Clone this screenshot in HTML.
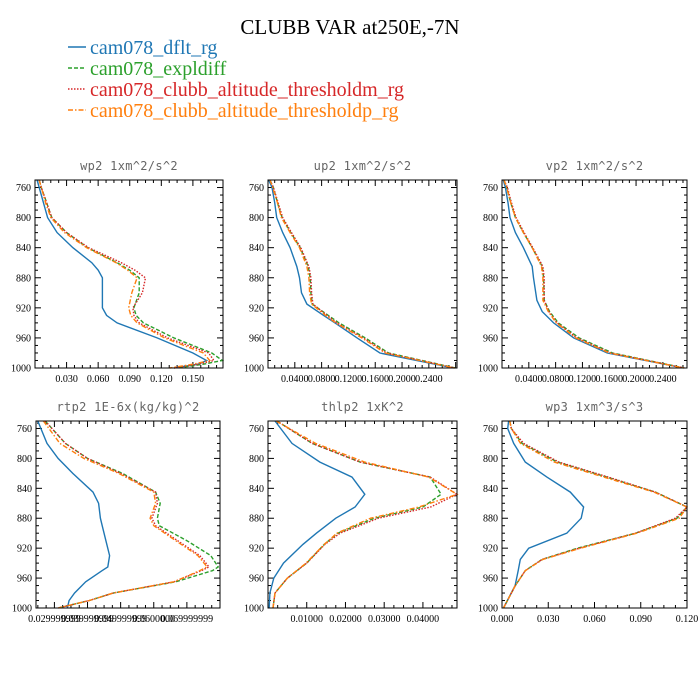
<!DOCTYPE html>
<html><head><meta charset="utf-8">
<style>
body{margin:0;background:#fff;}
svg{display:block;}
.ttl{font-family:"Liberation Serif",serif;}
.pt{font-family:"DejaVu Sans Mono","Liberation Mono",monospace;font-size:12px;fill:#666;letter-spacing:0.3px;}
.tk{font-family:"Liberation Serif",serif;font-size:10px;fill:#000;}
</style></head>
<body>
<svg id="fig" width="700" height="700" viewBox="0 0 700 700">
<text class="ttl" x="350" y="34" text-anchor="middle" font-size="21">CLUBB VAR at250E,-7N</text>
<g>
<g><line x1="68" y1="47" x2="86" y2="47" stroke="#1f77b4" stroke-width="1.5"/><text class="ttl" x="90" y="54" font-size="20" fill="#1f77b4">cam078_dflt_rg</text></g>
<g><line x1="68" y1="68" x2="86" y2="68" stroke="#2ca02c" stroke-width="1.5" stroke-dasharray="4,2"/><text class="ttl" x="90" y="75" font-size="20" fill="#2ca02c">cam078_expldiff</text></g>
<g><line x1="68" y1="89" x2="86" y2="89" stroke="#d62728" stroke-width="1.5" stroke-dasharray="1.5,1.5"/><text class="ttl" x="90" y="96" font-size="20" fill="#d62728">cam078_clubb_altitude_thresholdm_rg</text></g>
<g><line x1="68" y1="110" x2="86" y2="110" stroke="#ff7f0e" stroke-width="1.5" stroke-dasharray="5,2,1.5,2"/><text class="ttl" x="90" y="117" font-size="20" fill="#ff7f0e">cam078_clubb_altitude_thresholdp_rg</text></g>
</g>
</svg>
<script>
// ---- data ----
const pWp2 = [750,760,780,800,820,840,860,870,880,900,920,930,940,960,980,990,995,1000];
const wp2Dflt = [0.002,0.004,0.008,0.012,0.021,0.036,0.054,0.060,0.064,0.064,0.064,0.068,0.078,0.116,0.150,0.163,0.155,0.132];
const wp2Expl = [0.004,0.006,0.011,0.016,0.030,0.050,0.078,0.090,0.099,0.099,0.094,0.096,0.103,0.132,0.168,0.178,0.160,0.135];
const wp2Thm  = [0.004,0.006,0.011,0.016,0.030,0.051,0.082,0.095,0.105,0.102,0.093,0.094,0.099,0.126,0.165,0.170,0.155,0.132];
const wp2Thp  = [0.004,0.006,0.010,0.015,0.028,0.049,0.077,0.088,0.097,0.092,0.089,0.091,0.097,0.123,0.160,0.166,0.150,0.128];

const pUp2 = [750,760,780,800,820,840,865,880,900,915,930,940,960,980,1000];
const up2Dflt = [0.001,0.006,0.010,0.013,0.022,0.033,0.043,0.047,0.050,0.058,0.083,0.100,0.133,0.167,0.277];
const up2Expl = [0.003,0.008,0.014,0.021,0.034,0.048,0.060,0.063,0.064,0.066,0.090,0.106,0.145,0.180,0.280];
const up2Thm  = [0.003,0.008,0.015,0.022,0.035,0.049,0.061,0.064,0.065,0.067,0.088,0.103,0.142,0.177,0.279];
const up2Thp  = [0.003,0.007,0.014,0.020,0.033,0.047,0.058,0.061,0.062,0.065,0.086,0.101,0.140,0.175,0.278];

const pVp2 = [750,760,780,800,820,840,865,880,910,925,940,960,980,1000];
const vp2Dflt = [0.002,0.005,0.009,0.012,0.020,0.032,0.045,0.047,0.052,0.060,0.077,0.107,0.157,0.271];
const vp2Expl = [0.003,0.007,0.013,0.020,0.032,0.045,0.060,0.062,0.063,0.071,0.084,0.115,0.165,0.272];
const vp2Thm  = [0.003,0.008,0.014,0.021,0.033,0.046,0.061,0.063,0.063,0.070,0.082,0.112,0.162,0.272];
const vp2Thp  = [0.003,0.007,0.013,0.020,0.032,0.045,0.059,0.061,0.061,0.069,0.081,0.110,0.160,0.271];

const pRtp2 = [750,780,800,820,845,860,880,890,910,930,945,950,965,980,990,1000];
const rtp2Dflt = [0.01,0.06,0.12,0.20,0.31,0.34,0.35,0.36,0.38,0.40,0.39,0.36,0.27,0.21,0.18,0.17];
const rtp2Expl = [0.05,0.16,0.28,0.47,0.65,0.675,0.66,0.67,0.82,0.95,0.99,0.96,0.76,0.42,0.29,0.12];
const rtp2Thm  = [0.05,0.16,0.28,0.46,0.65,0.66,0.63,0.65,0.77,0.89,0.94,0.90,0.75,0.42,0.29,0.12];
const rtp2Thp  = [0.04,0.13,0.26,0.45,0.64,0.65,0.62,0.64,0.76,0.88,0.93,0.89,0.75,0.42,0.29,0.12];

const pThlp2 = [750,780,805,825,848,865,880,900,915,940,960,980,1000];
const thlp2Dflt = [0.0018,0.0062,0.0134,0.0217,0.0250,0.0225,0.0175,0.0125,0.0090,0.0040,0.0015,0.0005,0.0003];
const thlp2Expl = [0.0023,0.0114,0.0238,0.0419,0.0447,0.0400,0.0275,0.0180,0.0145,0.0100,0.0050,0.0018,0.0013];
const thlp2Thm  = [0.0023,0.0114,0.0238,0.0419,0.0488,0.0420,0.0285,0.0186,0.0147,0.0100,0.0050,0.0018,0.0013];
const thlp2Thp  = [0.0021,0.0123,0.0250,0.0415,0.0488,0.0390,0.0265,0.0178,0.0145,0.0098,0.0050,0.0018,0.0013];

const pWp3 = [750,760,780,805,825,845,865,880,900,920,935,950,970,1000];
const wp3Dflt = [0.0043,0.0037,0.0076,0.0151,0.0291,0.0443,0.0529,0.0514,0.0420,0.0173,0.0119,0.0105,0.0085,0.0010];
const wp3Expl = [0.005,0.006,0.013,0.036,0.068,0.0995,0.1205,0.1135,0.0866,0.0490,0.0260,0.0151,0.0086,0.0010];
const wp3Thm  = [0.005,0.006,0.014,0.037,0.069,0.0995,0.1200,0.1125,0.0866,0.0500,0.0260,0.0151,0.0086,0.0010];
const wp3Thp  = [0.005,0.006,0.012,0.034,0.066,0.0985,0.1210,0.1150,0.0875,0.0510,0.0265,0.0151,0.0086,0.0010];

const yTicks = [760,800,840,880,920,960,1000];
const wp2XTicks = [0.03,0.06,0.09,0.12,0.15];
const wp2XLabels = ["0.030","0.060","0.090","0.120","0.150"];
const uvXTicks = [0.04,0.08,0.12,0.16,0.20,0.24];
const uvXLabels = ["0.0400","0.0800","0.1200","0.1600","0.2000","0.2400"];
const rtpXTicks = [0.10,0.28,0.46,0.64,0.82];
const rtpXLabels = ["0.029999999","0.039999999","0.049999999","0.0600000","0.069999999"];
const thlXTicks = [0.01,0.02,0.03,0.04];
const thlXLabels = ["0.01000","0.02000","0.03000","0.04000"];
const wp3XTicks = [0,0.03,0.06,0.09,0.12];
const wp3XLabels = ["0.000","0.030","0.060","0.090","0.120"];

const styles = [
 {c:"#1f77b4",d:""},{c:"#2ca02c",d:"4,2"},{c:"#d62728",d:"1.5,1.5"},{c:"#ff7f0e",d:"5,2,1.5,2"}];
const seriesNames=["dflt","expldiff","thresholdm","thresholdp"];

const panels = [
 {name:"wp2",title:"wp2   1xm^2/s^2",x0:35,x1:223,y0:180,y1:368,xmin:0,xmax:0.1786,p:pWp2,s:[wp2Dflt,wp2Expl,wp2Thm,wp2Thp],xt:wp2XTicks,xl:wp2XLabels},
 {name:"up2",title:"up2   1xm^2/s^2",x0:268,x1:457,y0:180,y1:368,xmin:0,xmax:0.282,p:pUp2,s:[up2Dflt,up2Expl,up2Thm,up2Thp],xt:uvXTicks,xl:uvXLabels},
 {name:"vp2",title:"vp2   1xm^2/s^2",x0:502,x1:687,y0:180,y1:368,xmin:0,xmax:0.276,p:pVp2,s:[vp2Dflt,vp2Expl,vp2Thm,vp2Thp],xt:uvXTicks,xl:uvXLabels},
 {name:"rtp2",title:"rtp2   1E-6x(kg/kg)^2",x0:36,x1:220,y0:421,y1:608,xmin:0,xmax:1,p:pRtp2,s:[rtp2Dflt,rtp2Expl,rtp2Thm,rtp2Thp],xt:rtpXTicks,xl:rtpXLabels},
 {name:"thlp2",title:"thlp2   1xK^2",x0:268,x1:457,y0:421,y1:608,xmin:0,xmax:0.0488,p:pThlp2,s:[thlp2Dflt,thlp2Expl,thlp2Thm,thlp2Thp],xt:thlXTicks,xl:thlXLabels},
 {name:"wp3",title:"wp3   1xm^3/s^3",x0:502,x1:687,y0:421,y1:608,xmin:0,xmax:0.12,p:pWp3,s:[wp3Dflt,wp3Expl,wp3Thm,wp3Thp],xt:wp3XTicks,xl:wp3XLabels}
];

const NS="http://www.w3.org/2000/svg";
const fig=document.getElementById("fig");
function mk(tag,attrs,parent){const e=document.createElementNS(NS,tag);for(const k in attrs)e.setAttribute(k,attrs[k]);parent.appendChild(e);return e;}

panels.forEach(P=>{
 const g=mk("g",{},fig);
 
 
 const xs=v=>P.x0+(v-P.xmin)/(P.xmax-P.xmin)*(P.x1-P.x0);
 const ys=p=>P.y0+(p-750)/250*(P.y1-P.y0);
 const t=mk("text",{class:"pt",x:(P.x0+P.x1)/2,y:P.y0-10,"text-anchor":"middle","xml:space":"preserve"},g);
 t.textContent=P.title;
 
 
 for(let p=760;p<=1000;p+=10){
  const major=(p-760)%40===0;const L=major?6:3;
  mk("line",{x1:P.x0,x2:P.x0+L,y1:ys(p),y2:ys(p),stroke:"#000","stroke-width":1},g);
  mk("line",{x1:P.x1,x2:P.x1-L,y1:ys(p),y2:ys(p),stroke:"#000","stroke-width":1},g);
 }
 yTicks.forEach(p=>{
  const l=mk("text",{class:"tk",x:P.x0-4,y:ys(p)+3.5,"text-anchor":"end"},g);
  l.textContent=String(p);
  
  
 });
 const step=P.xt.length>1?(P.xt[1]-P.xt[0]):0.03;
 for(let v=P.xt[0]-step*2;v<=P.xmax+1e-9;v+=step/4){
  if(v<P.xmin-1e-9)continue;
  const k=Math.round((v-P.xt[0])/step*4);const major=k%4===0;const L=major?6:3;
  mk("line",{x1:xs(v),x2:xs(v),y1:P.y1,y2:P.y1-L,stroke:"#000","stroke-width":1},g);
  mk("line",{x1:xs(v),x2:xs(v),y1:P.y0,y2:P.y0+L,stroke:"#000","stroke-width":1},g);
 }
 P.xt.forEach((v,i)=>{
  const l=mk("text",{class:"tk",x:xs(v),y:P.y1+14,"text-anchor":"middle"},g);
  l.textContent=P.xl[i];
  
  
 });
 P.s.forEach((arr,si)=>{
  const d=arr.map((v,i)=>(i?"L":"M")+xs(Math.min(v,P.xmax)).toFixed(1)+","+ys(P.p[i]).toFixed(1)).join("");
  const st=styles[si];
  const path=mk("path",{d:d,fill:"none",stroke:st.c,"stroke-width":1.4},g);
  if(st.d)path.setAttribute("stroke-dasharray",st.d);
  
  
 });
 const box=mk("rect",{x:P.x0,y:P.y0,width:P.x1-P.x0,height:P.y1-P.y0,fill:"none",stroke:"#000","stroke-width":1},g);
 
 
});
</script>
</body></html>
